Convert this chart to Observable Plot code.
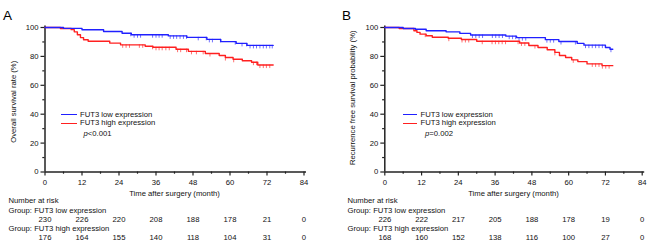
<!DOCTYPE html>
<html>
<head>
<meta charset="utf-8">
<script src="https://cdn.jsdelivr.net/npm/d3@7"></script>
<script src="https://cdn.jsdelivr.net/npm/@observablehq/plot@0.6"></script>
<style>
  html, body { margin: 0; padding: 0; background: #fff; }
  #wrap { display: flex; width: 650px; height: 246px; font-family: "Liberation Sans", Arial, sans-serif; }
  .panel { position: relative; width: 325px; height: 246px; }
  .panel svg { position: absolute; left: 0; top: 0; }
  .leg { position: absolute; font-size: 7.7px; line-height: 10px; color: #111; white-space: nowrap; }
  .sw { position: absolute; height: 0; border-top: 1.6px solid; }
</style>
</head>
<body>
<div id="wrap"><div class="panel" id="pA"></div><div class="panel" id="pB"></div></div>
<script>
// ---------- data ----------
const xTicks = [0, 12, 24, 36, 48, 60, 72, 84];
const xMinorTicks = [6, 18, 30, 42, 54, 66, 78];
const yTicks = [0, 20, 40, 60, 80, 100];
const yMinorTicks = [10, 30, 50, 70, 90];
const groups = ["FUT3 low expression", "FUT3 high expression"];
const xLabel = "Time after surgery (month)";

// Panel A: overall survival
const aLowT = [0, 6, 12, 19, 25, 28, 40, 46, 52.5, 57, 62, 65.5, 74];
const aLowS = [100, 99.4, 98.4, 97.2, 96.0, 95.0, 94.2, 93.2, 91.8, 90.2, 89.0, 87.6, 87.6];
const aHighT = [0, 5, 8.5, 9.5, 10.5, 11.5, 12.5, 14, 21, 24.5, 32.5, 35, 42.5, 46.5, 52, 56.5, 58.5, 61, 64, 67, 69, 74];
const aHighS = [100, 99.3, 98.5, 97, 95, 93, 91.5, 90.5, 89.2, 88, 87, 86.3, 85, 83.5, 82, 80.6, 79.2, 78, 77, 76, 74, 74];
const aLowCens = [27.8, 28.9, 30, 31, 34.9, 36, 37, 38, 40.6, 41.7, 42.7, 43.8, 44.9, 45.9, 49.7, 52.3, 53.3, 54.3, 56.9, 61.7, 63.9, 65.4, 66.5, 67.6, 68.6, 69.7, 70.8, 71.8, 72.9, 73.7];
const aHighCens = [25.2, 26.3, 27.4, 30.6, 31.7, 34.9, 36, 37, 38, 39.2, 40.3, 43, 44, 45.9, 47.5, 49.1, 51.3, 53.5, 58.5, 61.2, 67.6, 68.6, 69.7, 70.8, 71.8, 72.9];
const aRiskLow = [230, 226, 220, 208, 188, 178, 21, 0];
const aRiskHigh = [176, 164, 155, 140, 118, 104, 31, 0];
const aYLabel = "Overall survival rate (%)";
const aP = "<0.001";

// Panel B: recurrence free survival
const bLowT = [0, 6, 10, 13.5, 20, 24.5, 28, 39.5, 43, 52.4, 56.8, 62.8, 65, 72, 73.5, 74.4];
const bLowS = [100, 99.3, 98.8, 97.8, 97, 95.9, 94.8, 94, 93, 91.6, 90.3, 89, 87.8, 86.2, 85, 85];
const bHighT = [0, 4.7, 9.5, 10.5, 11.5, 13.5, 15.5, 20.7, 25, 30, 44, 47, 50, 53, 55.5, 57, 59, 61, 63, 66, 70.9, 74.4];
const bHighS = [100, 99.3, 97.8, 96.6, 95.4, 94.3, 93.3, 92.6, 91.7, 90.5, 89.3, 87.5, 86.2, 84.6, 82.8, 80.6, 79.2, 77.6, 76.4, 74.8, 73.6, 73.6];
const bLowCens = [28.6, 29.7, 30.8, 31.9, 35.1, 36.2, 37.3, 38.4, 40.6, 41.7, 42.7, 43.8, 44.9, 46, 52.9, 54, 55.1, 57.5, 62.2, 65.5, 66.6, 67.7, 68.8, 69.9, 71, 73.8];
const bHighCens = [13.2, 20.9, 25.2, 26.3, 27.4, 31.8, 35, 36.1, 37.2, 38.3, 39.4, 43.5, 44.6, 45.7, 49, 55.5, 61.5, 67.7, 68.8, 69.9, 71, 72.1, 73.2];
const bRiskLow = [226, 222, 217, 205, 188, 178, 19, 0];
const bRiskHigh = [168, 160, 152, 138, 116, 100, 27, 0];
const bYLabel = "Recurrence free survival probability (%)";
const bP = "=0.002";

// ---------- drawing ----------
const colors = {low: "#2020ff", high: "#ff2020"};
const censColors = {low: "#7070ff", high: "#ff7070"};
const font = "'Liberation Sans', Arial, sans-serif";

function steps(T, S) { return T.map((t, i) => ({t, s: S[i]})); }
function survAt(T, S, c) {
  let v = S[0];
  for (let i = 0; i < T.length; i++) if (T[i] <= c) v = S[i];
  return v;
}
function cens(T, S, C) { return C.map(c => ({t: c, s: survAt(T, S, c)})); }

function panel(el, cfg) {
  const ml = cfg.ml, mr = cfg.mr;
  const low = steps(cfg.lowT, cfg.lowS), high = steps(cfg.highT, cfg.highS);
  const lowC = cens(cfg.lowT, cfg.lowS, cfg.lowCens), highC = cens(cfg.highT, cfg.highS, cfg.highCens);
  const rl = xTicks.map((t, i) => ({t, n: cfg.riskLow[i]}));
  const rh = xTicks.map((t, i) => ({t, n: cfg.riskHigh[i]}));
  const svg = Plot.plot({
    width: 325, height: 246,
    marginLeft: ml, marginRight: mr, marginTop: 27, marginBottom: 74.5,
    x: {domain: [0, 84]},
    y: {domain: [0, 100]},
    style: {fontFamily: font, fontSize: "7.7px", color: "#111", background: "transparent", overflow: "visible"},
    marks: [
      Plot.axisY({ticks: yTicks, tickSize: 4, tickPadding: 2.5, label: null, strokeWidth: 1.2, stroke: "#222"}),
      Plot.axisY({ticks: yMinorTicks, tickSize: 2.2, text: null, label: null, strokeWidth: 1.2, stroke: "#222"}),
      Plot.axisX({ticks: xTicks, tickSize: 4, tickPadding: 3.5, label: null, strokeWidth: 1.2, stroke: "#222"}),
      Plot.axisX({ticks: xMinorTicks, tickSize: 2.2, text: null, label: null, strokeWidth: 1.2, stroke: "#222"}),
      Plot.ruleX([0], {stroke: "#222", strokeWidth: 1.5, insetTop: -1.5}),
      Plot.ruleY([0], {stroke: "#222", strokeWidth: 1.5, insetRight: -2.5}),
      Plot.ruleX(lowC, {x: "t", y1: "s", y2: "s", insetBottom: -3.5, stroke: censColors.low, strokeWidth: 1}),
      Plot.ruleX(highC, {x: "t", y1: "s", y2: "s", insetBottom: -3.5, stroke: censColors.high, strokeWidth: 1}),
      Plot.line(high, {x: "t", y: "s", curve: "step-after", stroke: colors.high, strokeWidth: 1.4}),
      Plot.line(low, {x: "t", y: "s", curve: "step-after", stroke: colors.low, strokeWidth: 1.4}),
      Plot.text([cfg.title], {frameAnchor: "top-left", textAnchor: "start", dx: cfg.titleX - ml, dy: -17.5, fontSize: 13.5, fill: "#000"}),
      Plot.text([cfg.yLabel], {frameAnchor: "left", rotate: -90, dx: cfg.yLabelX - ml, dy: cfg.yLabelDy, textAnchor: "middle", fill: "#111"}),
      Plot.text([xLabel], {frameAnchor: "bottom", dy: 23.5, fill: "#111"}),
      Plot.text(["Number at risk"], {frameAnchor: "bottom-left", textAnchor: "start", dx: cfg.tableX - ml, dy: 31.2, fill: "#111"}),
      Plot.text(["Group: " + groups[0]], {frameAnchor: "bottom-left", textAnchor: "start", dx: cfg.tableX - ml, dy: 40.5, fill: "#111"}),
      Plot.text(rl, {x: "t", text: "n", frameAnchor: "bottom", dy: 49.5, fill: "#111"}),
      Plot.text(["Group: " + groups[1]], {frameAnchor: "bottom-left", textAnchor: "start", dx: cfg.tableX - ml, dy: 58.5, fill: "#111"}),
      Plot.text(rh, {x: "t", text: "n", frameAnchor: "bottom", dy: 67.5, fill: "#111"})
    ]
  });
  el.appendChild(svg);
  // legend
  const L = cfg.leg;
  [["low", 115], ["high", 123.7]].forEach(([k, y], i) => {
    const sw = document.createElement("div");
    sw.className = "sw";
    sw.style.left = L.x0 + "px"; sw.style.width = (L.x1 - L.x0) + "px";
    sw.style.top = (y - 0.8) + "px"; sw.style.borderColor = colors[k];
    el.appendChild(sw);
    const tx = document.createElement("div");
    tx.className = "leg";
    tx.style.left = L.tx + "px"; tx.style.top = (y - 5.5) + "px";
    tx.textContent = groups[i];
    el.appendChild(tx);
  });
  const p = document.createElement("div");
  p.className = "leg";
  p.style.left = L.px + "px"; p.style.top = (134.3 - 5.5) + "px";
  p.innerHTML = "<i>p</i>" + cfg.p;
  el.appendChild(p);
}

panel(document.getElementById("pA"), {
  title: "A", titleX: 2.5, ml: 44.5, mr: 21.5, yLabel: aYLabel, yLabelX: 13.5, yLabelDy: 2, tableX: 8,
  lowT: aLowT, lowS: aLowS, highT: aHighT, highS: aHighS, lowCens: aLowCens, highCens: aHighCens,
  riskLow: aRiskLow, riskHigh: aRiskHigh, p: aP,
  leg: {x0: 61, x1: 77, tx: 80, px: 83.5}
});
panel(document.getElementById("pB"), {
  title: "B", titleX: 16.5, ml: 59.3, mr: 8.3, yLabel: bYLabel, yLabelX: 26.7, yLabelDy: -2, tableX: 22,
  lowT: bLowT, lowS: bLowS, highT: bHighT, highS: bHighS, lowCens: bLowCens, highCens: bHighCens,
  riskLow: bRiskLow, riskHigh: bRiskHigh, p: bP,
  leg: {x0: 77.7, x1: 92.5, tx: 95.5, px: 100}
});
</script>
</body>
</html>
